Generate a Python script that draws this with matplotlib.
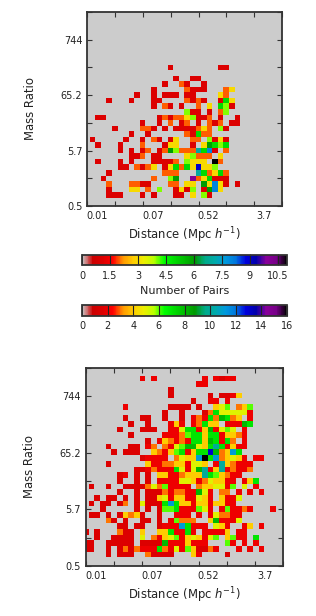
import numpy as np
import matplotlib
matplotlib.use("Agg")
import matplotlib.pyplot as plt
from matplotlib.transforms import ScaledTranslation

W, H = 316.0, 616.0
GRID = 36

x_labels = ["0.01", "", "0.07", "", "0.52", "", "3.7", ""]
y_labels = ["0.5", "", "5.7", "", "65.2", "", "744", ""]
bin_ticks = [0, 5, 10, 15, 20, 25, 30, 35]

top_bar_ticks = [0, 1.5, 3, 4.5, 6, 7.5, 9, 10.5]
top_bar_labels = ["0", "1.5", "3", "4.5", "6", "7.5", "9", "10.5"]
bottom_bar_ticks = [0, 2, 4, 6, 8, 10, 12, 14, 16]
top_max = 11
bottom_max = 16

# row (mass ratio bin) -> {column (distance bin): number of pairs}
top_counts = {
    25: {15: 1.1, 24: 1.1, 25: 1.1},
    23: {16: 1.1, 19: 1.1, 20: 1.1},
    22: {14: 1.1, 17: 2, 18: 1.1, 21: 1.1},
    21: {12: 1.1, 18: 2, 19: 1.1, 20: 1.1, 21: 1.1, 25: 2, 26: 3},
    20: {9: 1.1, 12: 1.1, 14: 1.1, 15: 1.1, 16: 1.1, 18: 1.1, 19: 1.1, 24: 3, 25: 2},
    19: {4: 1.1, 8: 1.1, 12: 1.1, 13: 1.1, 18: 2, 19: 1.1, 20: 2, 21: 1.1, 24: 1.1, 25: 5, 26: 3},
    18: {12: 1.1, 14: 2, 15: 1.1, 17: 1.1, 20: 2, 22: 3, 24: 5, 25: 4, 26: 1.1},
    17: {18: 4, 19: 1.1, 20: 1.1, 22: 1.1, 24: 2, 25: 4},
    16: {2: 1.1, 3: 1.1, 13: 1.1, 14: 2, 15: 1.1, 16: 2, 17: 2, 18: 3, 19: 4, 20: 1.1, 21: 1.1, 22: 2, 24: 1.1, 27: 1.1},
    15: {10: 1.1, 13: 1.1, 15: 2, 17: 1.1, 18: 2, 20: 1.1, 22: 2, 23: 1.1, 24: 2, 26: 1.1, 27: 1.1},
    14: {5: 1.1, 10: 2, 11: 2, 12: 1.1, 14: 1.1, 16: 1.1, 17: 1.1, 18: 1.1, 19: 1.1, 20: 2, 21: 3, 22: 2, 24: 4, 25: 1.1},
    13: {8: 1.1, 11: 1.1, 18: 2, 19: 1.1, 20: 5, 21: 2, 22: 2},
    12: {1: 1.1, 7: 1.1, 10: 1.1, 12: 2, 13: 1.1, 15: 1.1, 16: 3, 19: 2, 20: 2, 22: 4, 23: 1.1, 24: 3, 25: 1.1},
    11: {2: 1.1, 6: 1.1, 10: 2, 14: 1.1, 15: 3, 16: 3, 19: 1.1, 21: 3, 22: 6, 23: 5, 24: 4, 25: 5},
    10: {6: 1.1, 8: 1.1, 10: 1.1, 11: 2, 13: 1.1, 14: 2, 15: 6, 16: 4, 17: 2, 18: 2, 19: 2, 20: 7, 21: 5, 22: 8, 23: 1.1, 25: 2},
    9: {8: 1.1, 9: 1.1, 10: 2, 12: 1.1, 13: 1.1, 18: 3, 19: 4, 20: 2, 21: 2, 22: 2, 24: 3},
    8: {2: 1.1, 6: 1.1, 8: 1.1, 12: 1.1, 13: 1.1, 14: 1.1, 15: 1.1, 16: 2, 18: 4, 19: 3, 20: 3, 21: 3, 23: 11, 24: 2},
    7: {6: 1.1, 7: 1.1, 9: 2, 10: 1.1, 11: 2, 12: 3, 14: 1.1, 15: 3, 16: 5, 17: 2, 18: 5, 19: 3, 20: 9, 21: 3, 22: 3, 23: 4},
    6: {4: 1.1, 14: 2, 15: 2, 16: 2, 20: 7, 21: 5, 22: 2, 23: 3, 24: 5, 25: 2},
    5: {3: 1.1, 12: 2, 15: 4, 16: 6, 19: 10, 20: 2, 21: 3, 22: 5, 23: 1.1, 24: 1.1, 25: 1.1},
    4: {4: 2, 8: 2, 9: 2, 10: 1.1, 11: 1.1, 15: 2, 16: 2, 18: 3, 19: 3, 21: 6, 22: 3, 23: 8, 24: 3, 25: 1.1, 27: 1.1},
    3: {4: 1.1, 8: 3, 9: 3, 11: 2, 13: 4, 16: 1.1, 17: 3, 18: 1.1, 19: 4, 21: 1.1, 22: 6, 23: 8, 24: 3},
    2: {4: 1.1, 5: 1.1, 6: 1.1, 10: 1.1, 12: 1.1, 16: 1.1, 17: 1.1, 19: 3, 21: 4, 22: 1.1},
}

bottom_counts = {
    33: {10: 2, 12: 2, 21: 2, 23: 2, 24: 1.6, 25: 2, 26: 2},
    32: {20: 2, 21: 2},
    31: {15: 1.6},
    30: {15: 1.6, 22: 1.6, 24: 1.6, 25: 1.6, 26: 2, 27: 4},
    29: {19: 1.6, 22: 2, 23: 2, 25: 2},
    28: {7: 2, 15: 1.6, 16: 1.6, 17: 1.6, 18: 1.6, 20: 1.6, 23: 4, 24: 5, 25: 6, 27: 3, 28: 4, 29: 6},
    27: {14: 1.6, 17: 1.6, 21: 1.6, 22: 3, 23: 7, 24: 5, 25: 5, 26: 5, 27: 5, 28: 5, 29: 2},
    26: {7: 1.6, 10: 1.6, 11: 1.6, 14: 1.6, 17: 1.6, 19: 2, 20: 3, 21: 2, 22: 7, 23: 3, 24: 8, 25: 7, 26: 3, 27: 4, 29: 2},
    25: {8: 1.6, 11: 1.6, 15: 2, 16: 4, 17: 2, 19: 2, 20: 3, 21: 7, 22: 4, 23: 4, 25: 2, 26: 2, 27: 2, 28: 8, 29: 7},
    24: {6: 1.6, 10: 1.6, 11: 1.6, 12: 1.6, 15: 2, 16: 2, 17: 5, 18: 7, 19: 7, 20: 2, 21: 4, 22: 8, 23: 2, 24: 5, 25: 6, 26: 5, 28: 2},
    23: {8: 1.6, 14: 2, 15: 2, 16: 2, 17: 3, 18: 6, 19: 7, 20: 7, 21: 4, 22: 7, 23: 7, 24: 2, 25: 4, 26: 4, 27: 3, 28: 2},
    22: {11: 1.6, 13: 2, 14: 4, 15: 3, 16: 2, 17: 3, 18: 2, 19: 7, 20: 7, 21: 4, 22: 8, 23: 7, 24: 2, 25: 7, 26: 3, 28: 2},
    21: {4: 1.6, 8: 1.6, 9: 1.6, 11: 2, 12: 3, 14: 3, 15: 2, 16: 5, 17: 6, 18: 8, 19: 8, 20: 5, 21: 4, 22: 7, 23: 10, 24: 7, 25: 2, 26: 4, 27: 2, 28: 2},
    20: {5: 1.6, 7: 1.6, 8: 1.6, 9: 1.6, 12: 4, 13: 3, 14: 2, 15: 4, 16: 6, 17: 7, 18: 2, 19: 4, 20: 7, 21: 7, 22: 13, 23: 8, 24: 3, 25: 4, 26: 11, 27: 7},
    19: {10: 1.6, 11: 2, 12: 2, 13: 2, 14: 2, 16: 3, 17: 5, 18: 4, 19: 4, 20: 11, 21: 16, 22: 7, 23: 11, 24: 3, 25: 4, 26: 5, 27: 4, 28: 2, 30: 2, 31: 2},
    18: {4: 1.6, 11: 4, 12: 2, 13: 2, 14: 3, 15: 3, 16: 4, 17: 4, 18: 2, 19: 5, 20: 5, 21: 4, 23: 2, 24: 10, 25: 4, 26: 3, 27: 2, 28: 2, 29: 2},
    17: {9: 1.6, 10: 1.6, 11: 2, 12: 3, 13: 2, 14: 2, 15: 2, 16: 7, 17: 5, 18: 2, 19: 5, 20: 8, 21: 10, 22: 2, 23: 4, 24: 10, 25: 2, 26: 3, 27: 2, 28: 2, 29: 3},
    16: {6: 1.6, 7: 2, 9: 1.6, 11: 1.6, 13: 4, 14: 4, 15: 2, 16: 2, 17: 3, 18: 4, 19: 4, 20: 4, 21: 10, 22: 7, 23: 6, 24: 4, 25: 3, 26: 2, 27: 2},
    15: {6: 1.6, 9: 1.6, 11: 1.6, 13: 2, 14: 2, 15: 2, 16: 2, 17: 5, 18: 5, 19: 4, 20: 2, 21: 3, 22: 5, 23: 4, 24: 4, 25: 2, 26: 2, 28: 2, 29: 4, 30: 7},
    14: {1: 1.6, 4: 1.6, 7: 1.6, 8: 1.6, 9: 1.6, 10: 1.6, 11: 3, 12: 5, 13: 3, 14: 6, 15: 2, 16: 2, 17: 2, 18: 2, 20: 3, 21: 4, 22: 4, 23: 5, 24: 5, 25: 2, 26: 6, 28: 5, 30: 2},
    13: {6: 1.6, 9: 1.6, 11: 1.6, 12: 1.6, 13: 1.6, 14: 3, 15: 2, 16: 3, 17: 3, 18: 2, 19: 2, 20: 8, 21: 5, 22: 2, 24: 3, 25: 3, 27: 2, 29: 2, 31: 2},
    12: {2: 1.6, 4: 1.6, 5: 1.6, 7: 1.6, 9: 1.6, 11: 1.6, 12: 1.6, 13: 4, 14: 5, 15: 2, 16: 4, 17: 4, 18: 2, 19: 2, 20: 5, 21: 4, 22: 2, 24: 4, 25: 2, 26: 2, 27: 5},
    11: {1: 1.6, 3: 1.6, 4: 1.6, 6: 1.6, 7: 3, 9: 1.6, 10: 5, 11: 1.6, 12: 1.6, 13: 1.6, 14: 7, 15: 11, 16: 7, 17: 4, 18: 4, 19: 2, 20: 4, 21: 4, 22: 2, 23: 4, 24: 4, 25: 2, 26: 2},
    10: {3: 1.6, 9: 1.6, 11: 1.6, 13: 1.6, 14: 6, 15: 6, 16: 7, 17: 2, 18: 2, 19: 2, 20: 6, 21: 5, 22: 2, 24: 2, 25: 6, 26: 2, 27: 2, 28: 3, 29: 2, 33: 2},
    9: {1: 1.6, 2: 1.6, 4: 1.6, 6: 1.6, 7: 4, 8: 3, 9: 4, 10: 1.6, 13: 1.6, 16: 2, 17: 2, 18: 2, 20: 2, 22: 2, 23: 5, 24: 3, 25: 3, 26: 2, 27: 2},
    8: {4: 3, 5: 1.6, 7: 1.6, 10: 1.6, 11: 1.6, 13: 1.6, 15: 2, 16: 6, 17: 3, 18: 3, 19: 3, 22: 4, 23: 8, 24: 2, 25: 2, 26: 2, 27: 5},
    7: {6: 1.6, 7: 1.6, 9: 1.6, 10: 1.6, 13: 1.6, 14: 2, 15: 2, 16: 2, 17: 11, 18: 7, 19: 2, 20: 2, 21: 2, 23: 5, 24: 4, 25: 2, 28: 2, 29: 4, 31: 2},
    6: {0: 1.6, 2: 1.6, 6: 3, 7: 1.6, 8: 1.6, 10: 4, 13: 4, 14: 4, 15: 7, 16: 2, 17: 2, 18: 7, 19: 2, 21: 2, 22: 2, 23: 2, 24: 2, 25: 4, 27: 2, 28: 2},
    5: {2: 1.6, 5: 1.6, 6: 1.6, 7: 1.6, 8: 1.6, 10: 5, 12: 3, 13: 2, 14: 4, 15: 5, 16: 6, 17: 2, 18: 4, 19: 5, 20: 4, 21: 2, 22: 5, 23: 6, 25: 4, 26: 6, 27: 2, 28: 2, 30: 7},
    4: {0: 1.6, 1: 1.6, 4: 1.6, 5: 1.6, 6: 1.6, 7: 1.6, 8: 1.6, 10: 1.6, 11: 1.6, 12: 1.6, 13: 1.6, 14: 8, 15: 2, 16: 2, 17: 2, 18: 4, 19: 2, 20: 2, 21: 2, 25: 6, 26: 2, 28: 2, 30: 2},
    3: {0: 1.6, 1: 1.6, 4: 1.6, 6: 1.6, 7: 3, 8: 1.6, 9: 3, 10: 2, 11: 2, 12: 2, 13: 7, 14: 3, 15: 2, 16: 5, 17: 2, 18: 6, 19: 4, 20: 1.6, 21: 1.6, 22: 3, 23: 2, 27: 2, 29: 2, 31: 2},
    2: {4: 1.6, 6: 1.6, 7: 1.6, 8: 1.6, 11: 3, 12: 1.6, 13: 1.6, 14: 1.6, 15: 1.6, 19: 4, 20: 2, 25: 1.6},
}


def to_grid(counts):
    grid = np.zeros((GRID, GRID))
    for row, cols in counts.items():
        for col, value in cols.items():
            grid[row, col] = value
    return grid


def px_axes(fig, left, top, right, bottom):
    return fig.add_axes([left / W, 1 - bottom / H, (right - left) / W, (bottom - top) / H])


def draw_panel(fig, box, counts, vmax):
    ax = px_axes(fig, *box)
    im = ax.imshow(to_grid(counts), cmap="nipy_spectral_r", vmin=0, vmax=vmax,
                   origin="lower", interpolation="nearest", aspect="auto")
    ax.set_xlim(0, 35)
    ax.set_ylim(0, 35)
    ax.set_xticks(bin_ticks)
    ax.set_yticks(bin_ticks)
    ax.set_xticklabels(x_labels, fontsize=7)
    ax.set_yticklabels(y_labels, fontsize=7)
    ax.tick_params(direction="in", length=3.6, width=0.8, top=True, right=True,
                   color="#333333", labelcolor="#222222", pad=3.5)
    shift = ScaledTranslation(10 / 100, 0, fig.dpi_scale_trans)
    for label in ax.get_xticklabels():
        label.set_transform(label.get_transform() + shift)
    for spine in ax.spines.values():
        spine.set_linewidth(1.3)
        spine.set_color("#333333")
    ax.set_xlabel(r"Distance (Mpc $h^{-1}$)", fontsize=8.4, labelpad=3.5, color="#222222")
    ax.set_ylabel("Mass Ratio", fontsize=8.4, labelpad=17, color="#222222")
    return im


def draw_bar(fig, im, box, ticks, labels=None):
    cax = px_axes(fig, *box)
    bar = fig.colorbar(im, cax=cax, orientation="horizontal", ticks=ticks)
    if labels:
        bar.set_ticklabels(labels)
    bar.ax.tick_params(direction="in", length=7.6, width=0.8, color="#222222",
                       labelsize=7, labelcolor="#222222", pad=4)
    bar.outline.set_linewidth(1.3)
    bar.outline.set_edgecolor("#333333")
    return bar


fig = plt.figure(figsize=(W / 100, H / 100), dpi=100)

im_top = draw_panel(fig, (87.3, 12, 282, 206), top_counts, top_max)
im_bottom = draw_panel(fig, (85.7, 368, 283.3, 566), bottom_counts, bottom_max)

bar_top = draw_bar(fig, im_top, (82, 255, 287, 265.5), top_bar_ticks, top_bar_labels)
bar_top.set_label("Number of Pairs", fontsize=8, labelpad=3.5, color="#222222")
draw_bar(fig, im_bottom, (82, 305, 287, 315.5), bottom_bar_ticks)

fig.savefig("out.png", dpi=100)
